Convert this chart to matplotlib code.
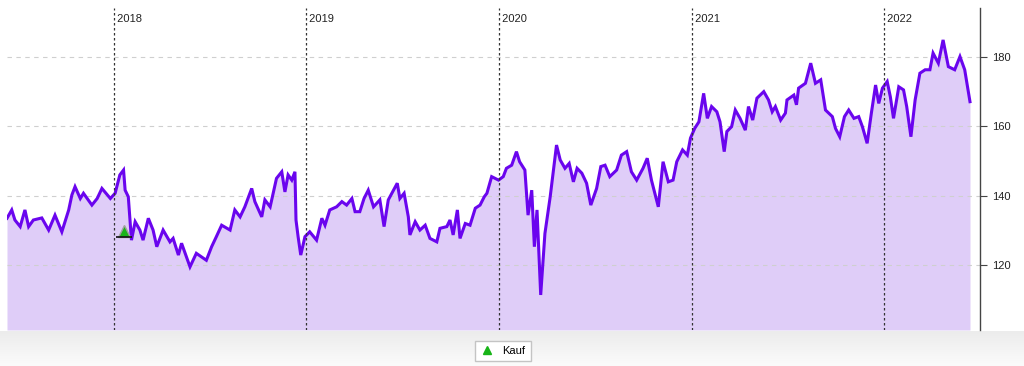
import numpy as np
import pandas as pd
import matplotlib
matplotlib.use("Agg")
import matplotlib.pyplot as plt
import matplotlib.transforms as mtransforms
from matplotlib.lines import Line2D

plt.rcParams["font.family"] = ["Liberation Sans", "DejaVu Sans"]

dates = [
    "2017-06-13", "2017-06-22", "2017-06-28", "2017-07-08", "2017-07-17", "2017-07-24",
    "2017-08-02", "2017-08-18", "2017-08-31", "2017-09-12", "2017-09-25", "2017-10-08",
    "2017-10-14", "2017-10-20", "2017-10-30", "2017-11-05", "2017-11-21", "2017-12-01",
    "2017-12-10", "2017-12-26", "2018-01-04", "2018-01-13", "2018-01-20", "2018-01-23",
    "2018-01-29", "2018-02-04", "2018-02-11", "2018-02-20", "2018-02-26", "2018-03-08",
    "2018-03-17", "2018-03-24", "2018-04-05", "2018-04-18", "2018-04-24", "2018-05-04",
    "2018-05-10", "2018-05-26", "2018-06-07", "2018-06-26", "2018-07-06", "2018-07-15",
    "2018-07-25", "2018-08-10", "2018-08-19", "2018-08-29", "2018-09-07", "2018-09-20",
    "2018-09-26", "2018-10-09", "2018-10-15", "2018-10-25", "2018-11-06", "2018-11-16",
    "2018-11-22", "2018-11-28", "2018-12-05", "2018-12-11", "2018-12-13", "2018-12-17",
    "2018-12-22", "2018-12-30", "2019-01-08", "2019-01-21", "2019-01-31", "2019-02-06",
    "2019-02-15", "2019-02-28", "2019-03-10", "2019-03-19", "2019-03-29", "2019-04-04",
    "2019-04-13", "2019-04-21", "2019-04-29", "2019-05-09", "2019-05-21", "2019-05-29",
    "2019-06-06", "2019-06-16", "2019-06-23", "2019-06-28", "2019-07-06", "2019-07-14",
    "2019-07-17", "2019-07-27", "2019-08-05", "2019-08-15", "2019-08-24", "2019-09-06",
    "2019-09-12", "2019-09-25", "2019-10-01", "2019-10-07", "2019-10-15", "2019-10-20",
    "2019-10-30", "2019-11-08", "2019-11-18", "2019-11-27", "2019-12-05", "2019-12-10",
    "2019-12-19", "2020-01-01", "2020-01-10", "2020-01-16", "2020-01-26", "2020-02-04",
    "2020-02-10", "2020-02-20", "2020-02-26", "2020-03-04", "2020-03-09", "2020-03-14",
    "2020-03-21", "2020-03-29", "2020-04-08", "2020-04-15", "2020-04-20", "2020-04-27",
    "2020-05-06", "2020-05-14", "2020-05-22", "2020-05-29", "2020-06-07", "2020-06-16",
    "2020-06-24", "2020-07-05", "2020-07-13", "2020-07-21", "2020-07-30", "2020-08-12",
    "2020-08-21", "2020-08-31", "2020-09-09", "2020-09-19", "2020-10-01", "2020-10-09",
    "2020-10-17", "2020-10-30", "2020-11-08", "2020-11-18", "2020-11-27", "2020-12-04",
    "2020-12-15", "2020-12-24", "2020-12-30", "2021-01-07", "2021-01-15", "2021-01-24",
    "2021-01-31", "2021-02-08", "2021-02-18", "2021-02-24", "2021-03-04", "2021-03-09",
    "2021-03-18", "2021-03-25", "2021-04-03", "2021-04-13", "2021-04-19", "2021-04-27",
    "2021-05-05", "2021-05-18", "2021-05-27", "2021-06-03", "2021-06-09", "2021-06-19",
    "2021-06-28", "2021-07-01", "2021-07-14", "2021-07-19", "2021-07-23", "2021-08-05",
    "2021-08-15", "2021-08-24", "2021-09-03", "2021-09-12", "2021-09-25", "2021-10-01",
    "2021-10-09", "2021-10-18", "2021-10-26", "2021-11-05", "2021-11-14", "2021-11-21",
    "2021-11-30", "2021-12-08", "2021-12-16", "2021-12-22", "2021-12-29", "2022-01-07",
    "2022-01-13", "2022-01-19", "2022-01-29", "2022-02-07", "2022-02-13", "2022-02-21",
    "2022-03-01", "2022-03-10", "2022-03-20", "2022-03-29", "2022-04-04", "2022-04-14",
    "2022-04-23", "2022-05-03", "2022-05-15", "2022-05-25", "2022-06-03", "2022-06-13",
]
prices = [
    133.5, 135.9, 133.0, 131.1, 135.9, 131.1, 133.0, 133.6, 130.1, 134.4, 129.6, 135.9,
    140.2, 142.6, 139.2, 140.7, 137.3, 139.2, 142.1, 139.2, 140.7, 146.0, 147.4, 141.6,
    139.7, 127.2, 132.5, 130.1, 127.2, 133.5, 130.1, 125.3, 130.1, 126.7, 127.7, 122.9,
    126.3, 119.5, 123.4, 121.4, 125.3, 128.2, 131.5, 130.1, 135.9, 133.9, 136.8, 142.1,
    138.3, 133.9, 138.8, 136.8, 145.0, 146.9, 141.1, 146.0, 144.5, 146.9, 133.0, 128.2,
    122.9, 128.2, 129.6, 127.2, 133.5, 131.5, 135.9, 136.8, 138.3, 137.3, 139.2, 135.4,
    135.4, 139.2, 141.6, 136.8, 138.8, 131.1, 138.8, 141.6, 143.6, 139.2, 140.7, 133.9,
    128.7, 132.5, 130.1, 131.5, 127.7, 126.7, 130.6, 131.1, 133.0, 128.7, 135.9, 127.7,
    132.0, 131.5, 136.4, 137.3, 139.7, 140.7, 145.5, 144.5, 145.5, 147.9, 148.8, 152.7,
    149.8, 147.4, 134.4, 141.6, 125.3, 135.9, 111.4, 129.1, 139.7, 148.4, 154.6, 150.3,
    147.9, 149.3, 144.0, 147.9, 146.5, 143.6, 137.3, 142.1, 148.4, 148.8, 145.5, 147.4,
    151.7, 152.7, 146.9, 144.5, 147.9, 150.8, 144.5, 136.8, 149.8, 144.0, 144.5, 149.8,
    153.2, 151.7, 156.6, 159.4, 161.3, 169.5, 162.3, 165.7, 164.2, 161.3, 152.7, 158.5,
    159.9, 164.7, 162.3, 158.9, 165.7, 161.8, 168.1, 170.0, 167.6, 164.2, 165.7, 161.8,
    163.8, 167.6, 169.0, 166.2, 171.0, 172.4, 178.2, 172.4, 173.4, 164.7, 162.8, 159.4,
    157.0, 162.8, 164.7, 162.3, 162.8, 159.9, 155.1, 163.8, 171.9, 166.6, 171.0, 172.9,
    168.5, 162.3, 171.4, 170.5, 165.7, 157.0, 167.6, 175.3, 176.3, 176.3, 181.1, 178.2,
    184.9, 177.2, 176.3, 180.1, 176.3, 167.1,
]
buy_dates = ["2018-01-21"]
buy_prices = [129.8]
year_starts = ["2018-01-01", "2019-01-01", "2020-01-01", "2021-01-01", "2022-01-01"]
year_labels = ["2018", "2019", "2020", "2021", "2022"]
y_ticks = [120, 140, 160, 180]

x = pd.to_datetime(dates)
bx = pd.to_datetime(buy_dates)
yx = pd.to_datetime(year_starts)

line_color = "#6a05ee"
fill_color = "#dfcdf8"

fig = plt.figure(figsize=(10.24, 3.66), dpi=100)

# grey strip below the plot
strip = fig.add_axes([0, 0, 1, 1 - 331 / 366])
strip.imshow(np.linspace(0, 1, 50).reshape(-1, 1), aspect="auto",
             cmap=matplotlib.colors.LinearSegmentedColormap.from_list("g", ["#ececec", "#fbfbfb"]),
             extent=[0, 1, 0, 1])
strip.axis("off")

ax = fig.add_axes([7 / 1024, 1 - 330 / 366, 973 / 1024, 322 / 366])
ymin, ymax = 101.3, 194.1
ax.set_ylim(ymin, ymax)
ax.set_xlim(pd.Timestamp("2017-06-13"), pd.Timestamp("2022-07-02"))

ax.fill_between(x, prices, ymin, color=fill_color, lw=0, zorder=1)
ax.plot(x, prices, color=line_color, lw=2.2, zorder=3, solid_joinstyle="miter")

for t in y_ticks:
    ax.axhline(t, color="#cfcfcf", lw=0.8, ls=(0, (4, 4)), zorder=2)

for d, lab in zip(yx, year_labels):
    ax.axvline(d, color="#333333", lw=0.9, ls=(0, (2, 2)), zorder=4)
    ax.text(d, 0.965, " " + lab, transform=ax.get_xaxis_transform(),
            fontsize=8, color="#222222", ha="left", va="center")

# buy marker: triangle with a base stroke
ax.plot(bx, buy_prices, ls="none", marker="^", ms=8, mfc="#18b418",
        mec="#a0a0a0", mew=1, zorder=5)
base = ax.transData + mtransforms.ScaledTranslation(0, -4.5 / 72, fig.dpi_scale_trans)
ax.plot(bx, buy_prices, ls="none", marker="_", ms=11, mec="#111111", mew=1.2,
        transform=base, zorder=5)

ax.yaxis.tick_right()
ax.set_yticks(y_ticks)
ax.tick_params(axis="y", direction="out", length=5, width=0.8, colors="#444444",
               labelsize=8, labelcolor="#222222", pad=4)
ax.set_xticks([])
for s in ["left", "top", "bottom"]:
    ax.spines[s].set_visible(False)
ax.spines["right"].set_color("#444444")
ax.spines["right"].set_linewidth(1)

handle = Line2D([], [], ls="none", marker="^", ms=6, mfc="#18b418", mec="#18b418")
fig.legend([handle], ["Kauf"], loc="center", bbox_to_anchor=(503 / 1024, 1 - 351 / 366),
           fontsize=8, frameon=True, fancybox=False, edgecolor="#c4c4c4",
           framealpha=1, handlelength=1.2, handletextpad=0.8, borderpad=0.45)

fig.savefig("out.png", dpi=100)
